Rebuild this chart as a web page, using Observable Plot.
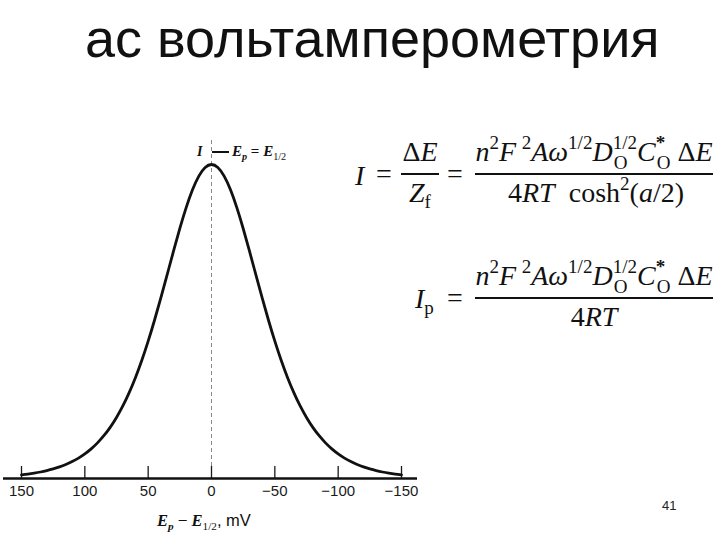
<!DOCTYPE html>
<html>
<head>
<meta charset="utf-8">
<script src="https://cdn.jsdelivr.net/npm/d3@7"></script>
<script src="https://cdn.jsdelivr.net/npm/@observablehq/plot@0.6"></script>
<style>
  html, body { margin: 0; padding: 0; background: #fff; }
  #page { position: relative; width: 720px; height: 540px; overflow: hidden; background: #fff; }
  #page svg { position: absolute; left: 0; top: 0; }
  .t { position: absolute; line-height: 1; white-space: nowrap; color: #111; }
  .serif { font-family: "Liberation Serif", "Times New Roman", serif; }
  .sans { font-family: "Liberation Sans", Arial, sans-serif; }
  .sup { font-size: 0.68em; position: relative; top: -0.62em; }
  .sub { font-size: 0.68em; position: relative; top: 0.32em; }
  .ss { display: inline-flex; flex-direction: column; font-size: 0.68em; line-height: 1.08; position: relative; top: -0.62em; text-align: left; }
  .bar { position: absolute; height: 1.6px; background: #111; }
</style>
</head>
<body>
<div id="page"></div>
<script>
// ---- data ----
const potentialMV = [150,145,140,135,130,125,120,115,110,105,100,95,90,85,80,75,70,65,60,55,50,45,40,35,30,25,20,15,10,5,0,
  -5,-10,-15,-20,-25,-30,-35,-40,-45,-50,-55,-60,-65,-70,-75,-80,-85,-90,-95,-100,-105,-110,-115,-120,-125,-130,-135,-140,-145,-150];
const currentRel = [0.0116,0.0141,0.0171,0.0207,0.0251,0.0304,0.0368,0.0445,0.0538,0.0650,0.0784,0.0944,0.1135,0.1362,0.1629,0.1944,
  0.2310,0.2734,0.3218,0.3765,0.4374,0.5040,0.5751,0.6492,0.7239,0.7962,0.8626,0.9194,0.9631,0.9906,1.0000,
  0.9906,0.9631,0.9194,0.8626,0.7962,0.7239,0.6492,0.5751,0.5040,0.4374,0.3765,0.3218,0.2734,0.2310,0.1944,0.1629,
  0.1362,0.1135,0.0944,0.0784,0.0650,0.0538,0.0445,0.0368,0.0304,0.0251,0.0207,0.0171,0.0141,0.0116];
const xTicks = [150, 100, 50, 0, -50, -100, -150];
const peakPotential = [0];
const baseline = [0];

const titleText = "ac вольтамперометрия";
const pageNumber = "41";

const data = potentialMV.map((E, i) => ({E, I: currentRel[i]}));
const fmt = d => d < 0 ? "\u2212" + Math.abs(d) : String(d);

const chart = Plot.plot({
  width: 720,
  height: 540,
  marginLeft: 21,
  marginRight: 319,
  marginTop: 164,
  marginBottom: 62,
  x: {domain: [150, -150], label: null},
  y: {domain: [0, 1], axis: null},
  style: {fontFamily: "'Liberation Sans', Arial, sans-serif", fontSize: "15px", color: "#1a1a1a", background: "transparent"},
  marks: [
    Plot.ruleX(peakPotential, {x: d => d, stroke: "#8a8a8a", strokeWidth: 1, strokeDasharray: "4,3", insetTop: -24}),
    Plot.axisX({ticks: xTicks, tickSize: 12, dy: -12, tickFormat: () => "", strokeWidth: 1.3, label: null}),
    Plot.axisX({ticks: xTicks, tickSize: 0, tickPadding: 7, tickFormat: fmt, label: null, fontSize: 15}),
    Plot.ruleY(baseline, {y: d => d, stroke: "#111", strokeWidth: 2.6, insetLeft: -18, insetRight: -16}),
    Plot.line(data, {x: "E", y: "I", stroke: "#111", strokeWidth: 2.8, curve: "natural"})
  ]
});

const page = document.getElementById("page");
page.appendChild(chart);

// ---- text helpers (positions given by baseline) ----
function place(html, x, base, size, family, opts = {}) {
  const d = document.createElement("div");
  const k = family === "serif" ? 0.8375 : 0.8465;
  d.className = "t " + family;
  d.style.left = x + "px";
  d.style.top = (base - k * size) + "px";
  d.style.fontSize = size + "px";
  if (opts.width) { d.style.width = opts.width + "px"; d.style.textAlign = "center"; }
  if (opts.css) d.style.cssText += opts.css;
  d.innerHTML = html;
  page.appendChild(d);
  return d;
}
function bar(x1, x2, y) {
  const b = document.createElement("div");
  b.className = "bar";
  b.style.left = x1 + "px";
  b.style.width = (x2 - x1) + "px";
  b.style.top = (y - 0.8) + "px";
  page.appendChild(b);
}

// title
place(titleText, 85, 57, 54, "sans");
// page number
place(pageNumber, 662, 510, 13, "sans", {css: "color:#222;"});

// peak annotation
place("<i><b>I</b></i>", 197, 157, 14, "serif");
bar(212, 229, 152);
place("<i><b>E<span class='sub'>p</span></b></i> <b>=</b> <i><b>E</b></i><span class='sub'>1/2</span>", 232, 157, 15, "serif");

// x-axis label
place("<i><b>E<span class='sub'>p</span></b></i> <span class='sans'>\u2212</span> <i><b>E</b></i><span class='sub'>1/2</span><span class='sans'>, mV</span>", 157, 526, 16.5, "serif");

// equations
const S = 28;
const numer = "<i>n</i><span class='sup'>2</span><i>F</i>&thinsp;<span class='sup'>2</span><i>A</i><i>\u03c9</i><span class='sup'>1/2</span>" +
  "<i>D</i><span class='ss'><span>1/2</span><span style='padding-left:1px'>O</span></span>" +
  "<i>C</i><span class='ss'><span style='font-weight:bold'>*</span><span style='padding-left:1px'>O</span></span>&nbsp;\u0394<i>E</i>";

// equation 1
place("<i>I</i>", 355, 185, S, "serif");
place("=", 376, 183, S, "serif");
place("\u0394<i>E</i>", 401, 161, S, "serif", {width: 38});
bar(401, 439, 174);
place("<i>Z</i><span class='sub'>f</span>", 401, 202, S, "serif", {width: 38});
place("=", 447, 183, S, "serif");
place(numer, 475, 161, S, "serif", {width: 238});
bar(475, 713, 174);
place("4<i>RT</i>&nbsp;&nbsp;cosh<span class='sup'>2</span>(<i>a</i>/2)", 477, 202, S, "serif", {width: 238});

// equation 2
place("<i>I</i><span class='sub'>p</span>", 415, 308, S, "serif");
place("=", 447, 307, S, "serif");
place(numer, 475, 285, S, "serif", {width: 238});
bar(475, 713, 298);
place("4<i>RT</i>", 475, 326, S, "serif", {width: 238});
</script>
</body>
</html>
